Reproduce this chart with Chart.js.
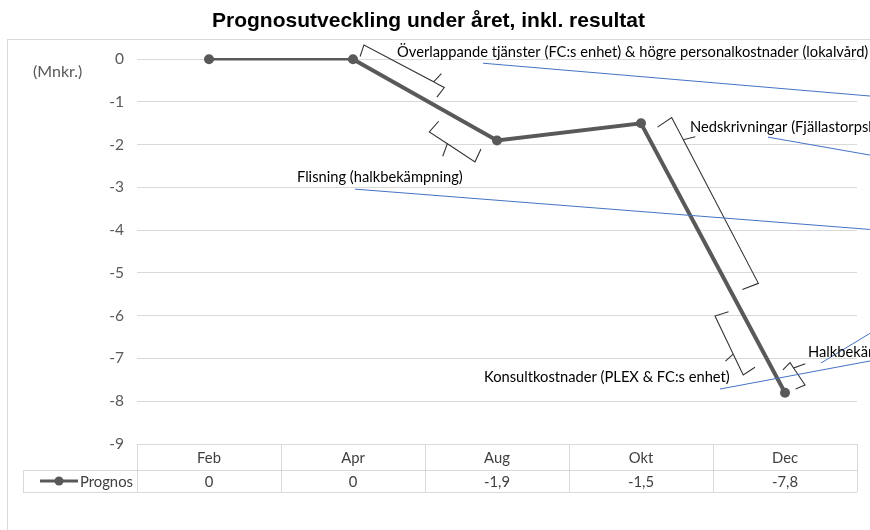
<!DOCTYPE html>
<html>
<head>
<meta charset="utf-8">
<script src="https://cdn.jsdelivr.net/npm/chart.js@4.4.0/dist/chart.umd.min.js"></script>
<style>
  body { margin: 0; background: #fff; }
</style>
</head>
<body>
<canvas id="prognos_chart" width="870" height="530"></canvas>
<script>
// data
const months = ['Feb', 'Apr', 'Aug', 'Okt', 'Dec'];
const prognos = [0, 0, -1.9, -1.5, -7.8];
const seriesName = 'Prognos';
const unitLabel = '(Mnkr.)';
const chartTitle = 'Prognosutveckling under året, inkl. resultat';
const noteTexts = [
  'Överlappande tjänster (FC:s enhet) & högre personalkostnader (lokalvård)',
  'Nedskrivningar (Fjällastorpskolan)',
  'Flisning (halkbekämpning)',
  'Konsultkostnader (PLEX & FC:s enhet)',
  'Halkbekämpning'
];

// annotation placement, in axis units (category index, Mnkr)
const notePos = [[1.306, 0.164], [3.340, -1.590], [0.611, -2.758], [1.910, -7.433], [4.160, -6.849]];
const leaders = [
  [1.903, -0.094, 4.62, -0.87],
  [3.882, -1.823, 4.62, -2.26],
  [1.014, -3.039, 4.62, -3.99],
  [3.549, -7.714, 4.62, -7.04],
  [4.250, -7.106, 4.62, -6.35]
];
const braces = [
  { a: [1.076, 0.334], b: [1.634, -0.662], side: 1, at: 0.9, tip: 11, hook: 12 },
  { a: [1.530, -1.699], b: [1.847, -2.401], side: -1, at: 0.45, tip: 13, hook: 14 },
  { a: [3.213, -1.363], b: [3.815, -5.243], side: 1, at: 0.15, tip: 12, hook: 17 },
  { a: [3.514, -6.008], b: [3.710, -7.387], side: -1, at: 0.69, tip: 10, hook: 14 },
  { a: [4.035, -7.099], b: [4.139, -7.620], side: 1, at: 0.35, tip: 12, hook: 10 }
];

const lineColor = '#595959';
const noteFont = '14.7px Lato';
const tableFont = '14.8px Lato';

function fmt(v) {
  return String(v).replace('.', ',');
}

const extras = {
  id: 'extras',
  beforeDraw(chart) {
    const ctx = chart.ctx;
    ctx.save();
    ctx.strokeStyle = '#d9d9d9';
    ctx.lineWidth = 1;
    ctx.strokeRect(7.5, 39.5, 1000, 1000);
    ctx.restore();
  },
  afterDatasetsDraw(chart) {
    const { ctx, scales: { x, y } } = chart;
    const P = p => [x.getPixelForValue(p[0]), y.getPixelForValue(p[1])];
    ctx.save();

    // braces
    ctx.strokeStyle = '#333';
    ctx.lineWidth = 1.1;
    braces.forEach(br => {
      const c1 = P(br.a), c2 = P(br.b);
      const dx = c2[0] - c1[0], dy = c2[1] - c1[1];
      const len = Math.hypot(dx, dy);
      const u = [dx / len, dy / len];
      const n = [br.side * u[1], -br.side * u[0]];
      const base = [c1[0] + u[0] * len * br.at, c1[1] + u[1] * len * br.at];
      ctx.beginPath();
      ctx.moveTo(c1[0] - n[0] * br.hook + u[0] * 2, c1[1] - n[1] * br.hook + u[1] * 2);
      ctx.lineTo(c1[0], c1[1]);
      ctx.lineTo(base[0] - u[0] * 3, base[1] - u[1] * 3);
      ctx.lineTo(base[0] + n[0] * br.tip, base[1] + n[1] * br.tip);
      ctx.moveTo(base[0] + u[0] * 3, base[1] + u[1] * 3);
      ctx.lineTo(base[0] - u[0] * 3, base[1] - u[1] * 3);
      ctx.moveTo(base[0] + u[0] * 3, base[1] + u[1] * 3);
      ctx.lineTo(c2[0], c2[1]);
      ctx.lineTo(c2[0] - n[0] * br.hook - u[0] * 2, c2[1] - n[1] * br.hook - u[1] * 2);
      ctx.stroke();
    });

    // leader lines
    ctx.strokeStyle = '#4472c4';
    ctx.lineWidth = 1;
    leaders.forEach(l => {
      const s = P([l[0], l[1]]), e = P([l[2], l[3]]);
      ctx.beginPath();
      ctx.moveTo(s[0], s[1]);
      ctx.lineTo(e[0], e[1]);
      ctx.stroke();
    });

    // notes
    ctx.fillStyle = '#000';
    ctx.font = noteFont;
    ctx.textAlign = 'left';
    ctx.textBaseline = 'middle';
    noteTexts.forEach((t, i) => {
      const p = P(notePos[i]);
      ctx.fillText(t, p[0], p[1]);
    });
    ctx.restore();
  },
  afterDraw(chart) {
    const { ctx, chartArea, scales: { x, y } } = chart;
    const colW = (chartArea.right - chartArea.left) / months.length;
    const top = chartArea.bottom;
    const mid = top + 26;
    const bot = mid + 22;
    const legLeft = chartArea.left - 114;
    ctx.save();

    // unit label
    ctx.fillStyle = lineColor;
    ctx.font = '16px Lato';
    ctx.textAlign = 'left';
    ctx.textBaseline = 'middle';
    ctx.fillText(unitLabel, chartArea.left - 104, y.getPixelForValue(-0.3));

    // data table grid
    ctx.strokeStyle = '#d9d9d9';
    ctx.lineWidth = 1;
    ctx.beginPath();
    ctx.moveTo(chartArea.left, top + 0.5); ctx.lineTo(chartArea.right, top + 0.5);
    ctx.moveTo(legLeft, mid + 0.5); ctx.lineTo(chartArea.right, mid + 0.5);
    ctx.moveTo(legLeft, bot + 0.5); ctx.lineTo(chartArea.right, bot + 0.5);
    ctx.moveTo(legLeft + 0.5, mid); ctx.lineTo(legLeft + 0.5, bot);
    for (let i = 0; i <= months.length; i++) {
      const xx = Math.round(chartArea.left + i * colW) + 0.5;
      ctx.moveTo(xx, top); ctx.lineTo(xx, bot);
    }
    ctx.stroke();

    // table text
    ctx.fillStyle = '#404040';
    ctx.font = tableFont;
    ctx.textAlign = 'center';
    months.forEach((m, i) => {
      const cx = x.getPixelForValue(i);
      ctx.fillText(m, cx, (top + mid) / 2 + 1);
      ctx.fillText(fmt(prognos[i]), cx, (mid + bot) / 2 + 1);
    });

    // legend key
    const ly = (mid + bot) / 2;
    ctx.strokeStyle = lineColor;
    ctx.lineWidth = 3;
    ctx.beginPath();
    ctx.moveTo(legLeft + 17, ly); ctx.lineTo(legLeft + 55, ly);
    ctx.stroke();
    ctx.fillStyle = lineColor;
    ctx.beginPath();
    ctx.arc(legLeft + 36, ly, 4.5, 0, Math.PI * 2);
    ctx.fill();
    ctx.fillStyle = '#404040';
    ctx.textAlign = 'left';
    ctx.fillText(seriesName, legLeft + 57, ly + 1);
    ctx.restore();
  }
};

new Chart(document.getElementById('prognos_chart'), {
  type: 'line',
  data: {
    labels: months,
    datasets: [{
      label: seriesName,
      data: prognos,
      borderColor: lineColor,
      backgroundColor: lineColor,
      borderWidth: 4,
      pointRadius: 5,
      pointHoverRadius: 5,
      pointBackgroundColor: lineColor,
      pointBorderWidth: 0,
      tension: 0,
      clip: false,
      segment: {
        borderWidth: c => c.p0DataIndex === 0 ? 2.5 : 4
      }
    }]
  },
  options: {
    responsive: false,
    animation: false,
    devicePixelRatio: 1,
    layout: { padding: { left: 0, right: 13, top: 0, bottom: 86 } },
    plugins: {
      legend: { display: false },
      tooltip: { enabled: false },
      title: {
        display: true,
        text: chartTitle,
        color: '#000',
        font: { family: 'Liberation Sans', size: 21, weight: 'bold' },
        padding: { top: 9, bottom: 25 }
      }
    },
    scales: {
      x: {
        display: false,
        offset: true
      },
      y: {
        min: -9,
        max: 0,
        afterFit: s => { s.width = 137; },
        border: { display: false },
        grid: { color: '#d9d9d9', drawTicks: false },
        ticks: {
          stepSize: 1,
          padding: 13,
          color: lineColor,
          font: { family: 'Lato', size: 15.5 }
        }
      }
    }
  },
  plugins: [extras]
});
</script>
</body>
</html>
